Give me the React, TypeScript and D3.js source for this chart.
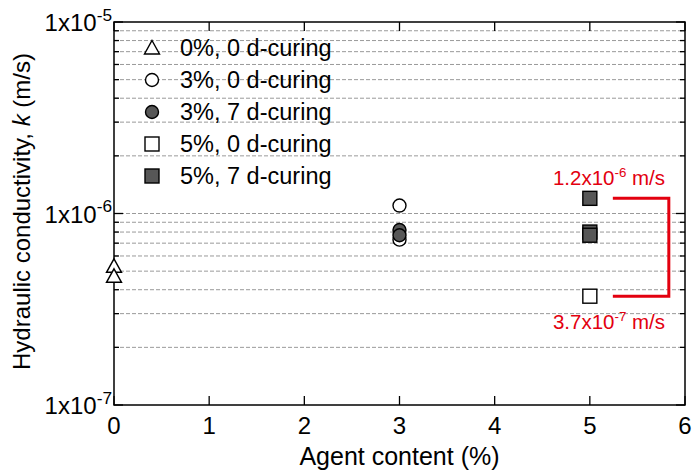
import React from "react";
import * as d3 from "d3";

// Hydraulic conductivity measurements by agent content and curing period
const triangleOpen0 = [5.3e-7, 4.7e-7]; // 0%, 0 d-curing
const circleOpen3 = [1.1e-6, 7.3e-7]; // 3%, 0 d-curing
const circleFilled3 = [8.2e-7, 7.7e-7]; // 3%, 7 d-curing
const squareOpen5 = [3.7e-7]; // 5%, 0 d-curing
const squareFilled5 = [1.2e-6, 8.0e-7, 7.7e-7]; // 5%, 7 d-curing

const xTicks = [0, 1, 2, 3, 4, 5, 6];
const yMajor = [1e-7, 1e-6, 1e-5];
const yMajorExp = ["-7", "-6", "-5"];
const legendLabels = [
  "0%, 0 d-curing",
  "3%, 0 d-curing",
  "3%, 7 d-curing",
  "5%, 0 d-curing",
  "5%, 7 d-curing",
];
const rangeHigh = 1.2e-6;
const rangeLow = 3.7e-7;

const W = 695;
const H = 472;
const M = { left: 114, right: 685, top: 22, bottom: 405 };
const FONT = "Liberation Sans, Arial, sans-serif";
const RED = "#e3000f";
const FILL = "#575757";
const FS = 24;

const x = d3.scaleLinear().domain([0, 6]).range([M.left, M.right]);
const y = d3.scaleLog().domain([1e-7, 1e-5]).range([M.bottom, M.top]);

const minor: number[] = [];
[1e-7, 1e-6].forEach((d) => {
  for (let i = 2; i <= 9; i++) minor.push(d * i);
});
const grid = [...minor, 1e-6];

type Shape = "tri" | "circ" | "sq";
function Marker({ cx, cy, shape, filled }: { cx: number; cy: number; shape: Shape; filled: boolean }) {
  const fill = filled ? FILL : "#fff";
  const stroke = "#000";
  const sw = 1.4;
  if (shape === "tri") {
    const s = 7.5;
    return (
      <path
        d={`M${cx},${cy - s} L${cx + s},${cy + s * 0.8} L${cx - s},${cy + s * 0.8} Z`}
        fill={fill}
        stroke={stroke}
        strokeWidth={sw}
      />
    );
  }
  if (shape === "circ") {
    return <circle cx={cx} cy={cy} r={6.5} fill={fill} stroke={stroke} strokeWidth={sw} />;
  }
  return <rect x={cx - 7} y={cy - 7} width={14} height={14} fill={fill} stroke={stroke} strokeWidth={sw} />;
}

function SupLabel({ px, py, base, exp, tail, anchor, size, color, supScale = 0.65 }: any) {
  return (
    <text x={px} y={py} textAnchor={anchor} fontFamily={FONT} fontSize={size} fill={color}>
      {base}
      <tspan dy={-size * 0.42} fontSize={size * supScale}>
        {exp}
      </tspan>
      {tail ? (
        <tspan dy={size * 0.42} fontSize={size}>
          {tail}
        </tspan>
      ) : null}
    </text>
  );
}

export default function App() {
  const legendShapes: { shape: Shape; filled: boolean }[] = [
    { shape: "tri", filled: false },
    { shape: "circ", filled: false },
    { shape: "circ", filled: true },
    { shape: "sq", filled: false },
    { shape: "sq", filled: true },
  ];
  const yHigh = y(rangeHigh);
  const yLow = y(rangeLow);
  const bx0 = x(5) + 23;
  const bx1 = x(5.83);

  return (
    <svg width={W} height={H} style={{ position: "absolute", left: 0, top: 0 }}>
      <rect width={W} height={H} fill="#fff" />
      {/* dashed horizontal gridlines */}
      {grid.map((g, i) => (
        <line
          key={i}
          x1={M.left}
          x2={M.right}
          y1={y(g)}
          y2={y(g)}
          stroke="#9a9a9a"
          strokeWidth={1}
          strokeDasharray="4,2"
        />
      ))}
      {/* frame */}
      <rect
        x={M.left}
        y={M.top}
        width={M.right - M.left}
        height={M.bottom - M.top}
        fill="none"
        stroke="#000"
        strokeWidth={1.5}
      />
      {/* x ticks, bottom and top */}
      {xTicks.map((t) => (
        <g key={t}>
          <line x1={x(t)} x2={x(t)} y1={M.bottom} y2={M.bottom - 9} stroke="#000" strokeWidth={1.3} />
          <line x1={x(t)} x2={x(t)} y1={M.top} y2={M.top + 9} stroke="#000" strokeWidth={1.3} />
          <text x={x(t)} y={434} textAnchor="middle" fontFamily={FONT} fontSize={FS} fill="#000">
            {t}
          </text>
        </g>
      ))}
      {/* y ticks left and right */}
      {minor.map((m, i) => (
        <g key={i}>
          <line x1={M.left} x2={M.left + 5} y1={y(m)} y2={y(m)} stroke="#000" strokeWidth={1.3} />
          <line x1={M.right} x2={M.right - 5} y1={y(m)} y2={y(m)} stroke="#000" strokeWidth={1.3} />
        </g>
      ))}
      {yMajor.map((m, i) => (
        <g key={i}>
          <line x1={M.left} x2={M.left + 9} y1={y(m)} y2={y(m)} stroke="#000" strokeWidth={1.3} />
          <line x1={M.right} x2={M.right - 9} y1={y(m)} y2={y(m)} stroke="#000" strokeWidth={1.3} />
          <SupLabel
            px={M.left - 2}
            py={y(m) + 9}
            base="1x10"
            exp={yMajorExp[i]}
            anchor="end"
            size={FS}
            supScale={0.72}
            color="#000"
          />
        </g>
      ))}
      {/* axis titles */}
      <text
        x={(M.left + M.right) / 2}
        y={465}
        textAnchor="middle"
        fontFamily={FONT}
        fontSize={25}
        fill="#000"
      >
        Agent content (%)
      </text>
      <text
        transform={`translate(30,${(M.top + M.bottom) / 2 - 2}) rotate(-90)`}
        textAnchor="middle"
        fontFamily={FONT}
        fontSize={FS}
        fill="#000"
      >
        Hydraulic conductivity, <tspan fontStyle="italic">k</tspan> (m/s)
      </text>
      {/* data */}
      {triangleOpen0.map((v, i) => (
        <Marker key={"t" + i} cx={x(0)} cy={y(v)} shape="tri" filled={false} />
      ))}
      {circleOpen3.map((v, i) => (
        <Marker key={"co" + i} cx={x(3)} cy={y(v)} shape="circ" filled={false} />
      ))}
      {circleFilled3.map((v, i) => (
        <Marker key={"cf" + i} cx={x(3)} cy={y(v)} shape="circ" filled={true} />
      ))}
      {squareOpen5.map((v, i) => (
        <Marker key={"so" + i} cx={x(5)} cy={y(v)} shape="sq" filled={false} />
      ))}
      {squareFilled5.map((v, i) => (
        <Marker key={"sf" + i} cx={x(5)} cy={y(v)} shape="sq" filled={true} />
      ))}
      {/* range bracket */}
      <path
        d={`M${bx0},${yHigh} H${bx1} V${yLow} H${bx0}`}
        fill="none"
        stroke={RED}
        strokeWidth={3}
      />
      <SupLabel px={609} py={yHigh - 13} base="1.2x10" exp="-6" tail=" m/s" anchor="middle" size={20.5} color={RED} />
      <SupLabel px={609} py={yLow + 33} base="3.7x10" exp="-7" tail=" m/s" anchor="middle" size={20.5} color={RED} />
      {/* legend */}
      {legendLabels.map((l, i) => (
        <g key={l}>
          <Marker cx={152} cy={48 + i * 32} shape={legendShapes[i].shape} filled={legendShapes[i].filled} />
          <text x={180} y={56 + i * 32} fontFamily={FONT} fontSize={23.5} fill="#000">
            {l}
          </text>
        </g>
      ))}
    </svg>
  );
}
